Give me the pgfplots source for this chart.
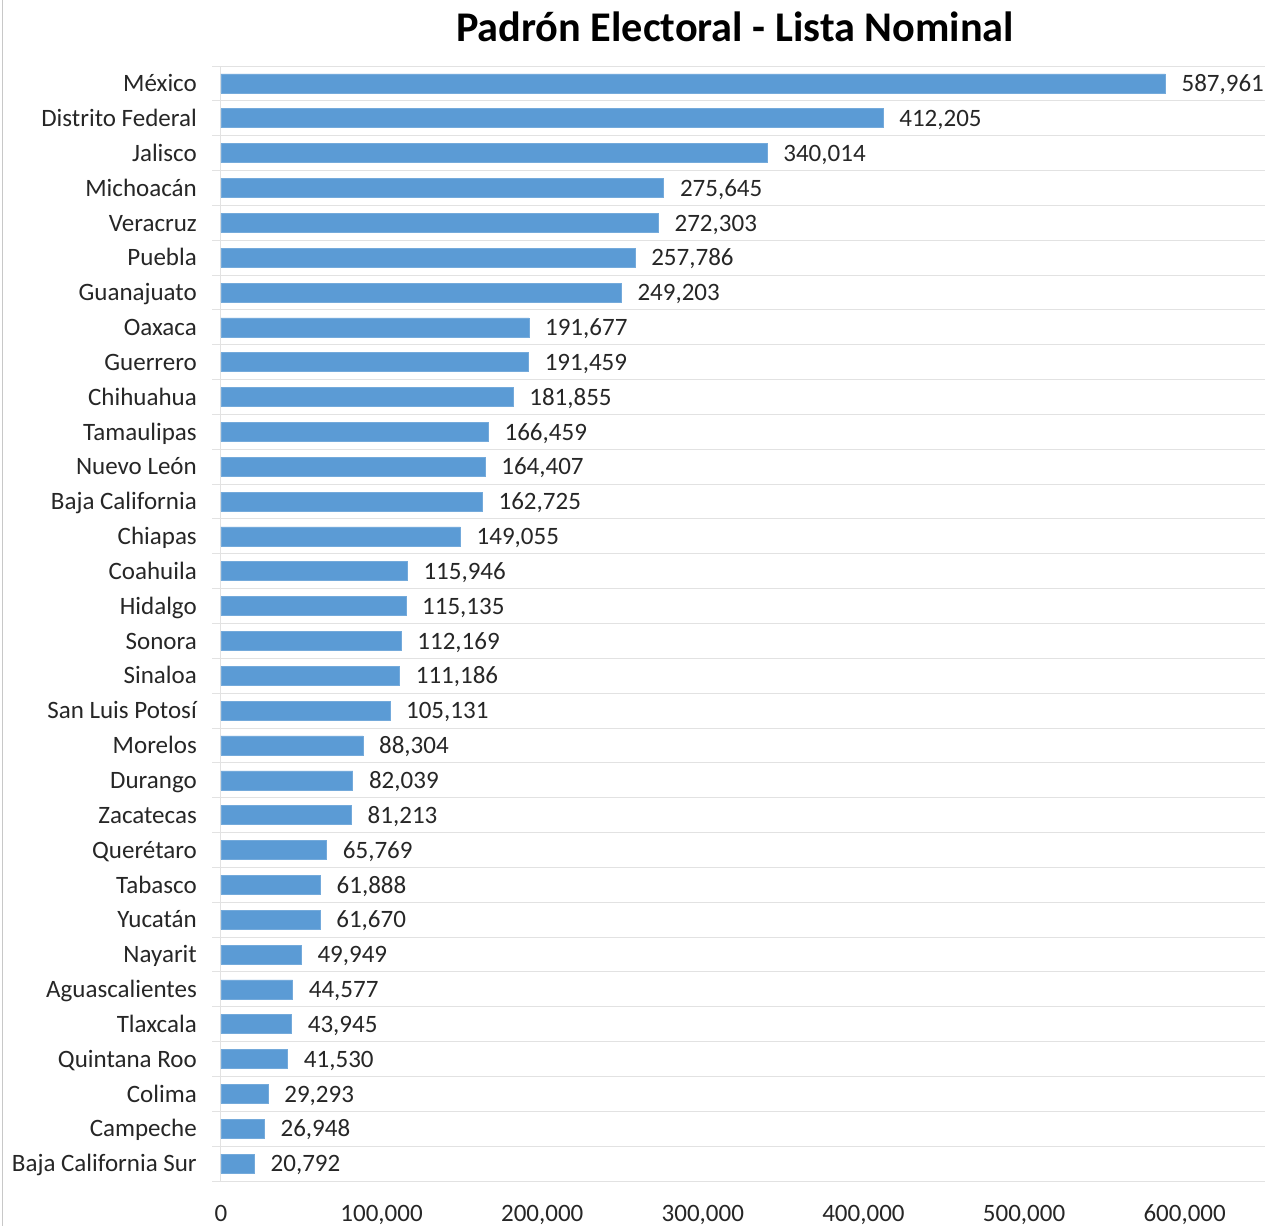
\documentclass[border=0pt]{standalone}
\usepackage{fontspec}
\setmainfont{Carlito}
\usepackage{pgfplots}
\usepackage{pgfplotstable}
\pgfplotsset{compat=1.18}
\definecolor{barblue}{HTML}{5B9BD5}
\definecolor{gridgray}{HTML}{E2E2E2}
\definecolor{framegray}{HTML}{C8C8C8}
\newcommand\lblfont{\fontsize{25bp}{30bp}\selectfont}
\pgfplotstableread{
idx val
0 20792
1 26948
2 29293
3 41530
4 43945
5 44577
6 49949
7 61670
8 61888
9 65769
10 81213
11 82039
12 88304
13 105131
14 111186
15 112169
16 115135
17 115946
18 149055
19 162725
20 164407
21 166459
22 181855
23 191459
24 191677
25 249203
26 257786
27 272303
28 275645
29 340014
30 412205
31 587961
}\datatable
\begin{document}
\begin{tikzpicture}
\begin{axis}[
  scale only axis, width=1044bp, height=1115bp,
  anchor=south west, at={(0,0)},
  xbar, bar width=19bp,
  xmin=0, xmax=650000,
  ymin=-0.5, ymax=31.5,
  enlargelimits=false,
  axis lines*=left,
  x axis line style={draw=none},
  y axis line style={draw=gridgray, line width=1bp},
  ytick={0,...,31},
  yticklabels={Baja California Sur, Campeche, Colima, Quintana Roo, Tlaxcala, Aguascalientes, Nayarit, Yucatán, Tabasco, Querétaro, Zacatecas, Durango, Morelos, San Luis Potosí, Sinaloa, Sonora, Hidalgo, Coahuila, Chiapas, Baja California, Nuevo León, Tamaulipas, Chihuahua, Guerrero, Oaxaca, Guanajuato, Puebla, Veracruz, Michoacán, Jalisco, Distrito Federal, México},
  minor ytick={-0.5,0.5,...,31.5},
  yminorgrids,
  minor grid style={draw=gridgray, line width=1bp},
  major tick length=0pt,
  minor tick length=9bp,
  tick align=outside,
  minor tick style={draw=gridgray, line width=1bp},
  xtick={0,100000,...,600000},
  xtick style={draw=none},
  scaled x ticks=false,
  xticklabel={\pgfmathprintnumber[fixed,precision=0,1000 sep={,},assume math mode=true]{\tick}},
  xticklabel style={font=\lblfont, anchor=north, inner sep=0pt, text height=0.64em, text depth=0.12em, yshift=-34bp, text=black!85},
  yticklabel style={font=\lblfont, anchor=east, inner sep=0pt, text height=0.64em, text depth=0pt, xshift=-24bp, yshift=-5bp, text=black!85},
  nodes near coords={\pgfmathprintnumber[fixed,precision=0,1000 sep={,},assume math mode=true]{\pgfplotspointmeta}},
  nodes near coords align={horizontal},
  every node near coord/.append style={font=\lblfont, anchor=west, inner sep=0pt, text height=0.64em, text depth=0pt, xshift=16bp, yshift=-5bp, text=black!85},
]
\addplot[fill=barblue, draw=barblue!85!white, line width=0.6bp] table[x=val, y=idx] {\datatable};
\end{axis}
\draw[framegray, line width=1bp] (-218bp,-45bp) -- (-218bp,1181bp);
\node[anchor=base, inner sep=0pt, font=\fontsize{42.3bp}{50bp}\selectfont\bfseries] at (514bp,1139bp) {Padrón Electoral - Lista Nominal};
\pgfresetboundingbox
\path[use as bounding box] (-221bp,-45bp) rectangle (1051bp,1181bp);
\end{tikzpicture}
\end{document}
